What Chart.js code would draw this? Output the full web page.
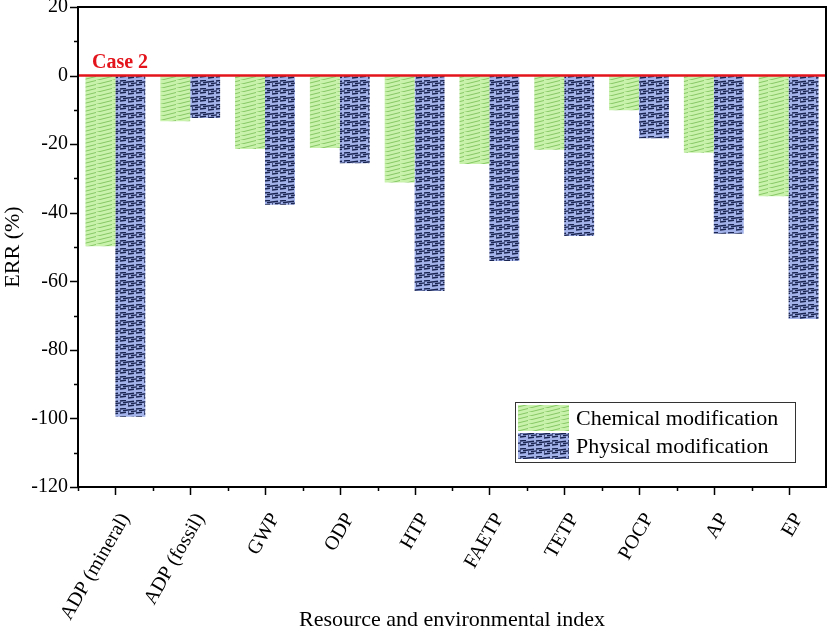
<!DOCTYPE html>
<html>
<head>
<meta charset="utf-8">
<script src="https://cdn.jsdelivr.net/npm/chart.js@4.4.1/dist/chart.umd.min.js"></script>
<style>
  html, body { margin: 0; background: #fff; }
  #wrap { width: 827px; height: 633px; }
</style>
</head>
<body>
<div id="wrap"><canvas id="err-chart"></canvas></div>
<script>
  const categories = ["ADP (mineral)", "ADP (fossil)", "GWP", "ODP", "HTP", "FAETP", "TETP", "POCP", "AP", "EP"];
  const chemical = [-49.8, -13.3, -21.4, -21.1, -31.2, -25.8, -21.6, -10.1, -22.5, -35.2];
  const physical = [-99.5, -12.4, -37.7, -25.6, -62.8, -54.1, -46.8, -18.3, -46.1, -71.0];
  const seriesNames = ["Chemical modification", "Physical modification"];
  const yRange = { min: -120, max: 20, major: 20, minor: 10 };
  const refValue = 0;
  const refLabel = "Case 2";

  const serif = "'Liberation Serif', 'Times New Roman', serif";

  function greenPattern() {
    const c = document.createElement("canvas");
    c.width = 16; c.height = 4;
    const g = c.getContext("2d");
    g.fillStyle = "#c9f2ac";
    g.fillRect(0, 0, 16, 4);
    g.strokeStyle = "#86c765";
    g.lineWidth = 1;
    g.beginPath();
    g.moveTo(0, 4.5); g.lineTo(16, 0.5);
    g.moveTo(-16, 4.5); g.lineTo(0, 0.5);
    g.stroke();
    return g.createPattern(c, "repeat");
  }

  function bluePattern() {
    const c = document.createElement("canvas");
    c.width = 16; c.height = 8;
    const g = c.getContext("2d");
    g.fillStyle = "#a3b3ea";
    g.fillRect(0, 0, 16, 8);
    g.strokeStyle = "#1a2450";
    g.lineWidth = 1.3;
    g.beginPath();
    for (let row = 0; row < 3; row++) {
      const y0 = 2 + row * 2;
      const shift = row % 2 ? 3 : 0;
      for (let x = -8; x < 16; x += 8) {
        const sx = x + shift;
        g.moveTo(sx, y0 - sx / 8);
        g.lineTo(sx + 6, y0 - (sx + 6) / 8);
      }
    }
    g.stroke();
    return g.createPattern(c, "repeat");
  }

  const fills = [greenPattern(), bluePattern()];

  const frame = {
    id: "frame",
    afterDatasetsDraw(chart) {
      const { ctx, chartArea: a, scales } = chart;
      const y0 = scales.y.getPixelForValue(refValue);
      ctx.save();
      ctx.strokeStyle = "#e3141b";
      ctx.lineWidth = 2.5;
      ctx.beginPath();
      ctx.moveTo(a.left, y0);
      ctx.lineTo(a.right, y0);
      ctx.stroke();
      ctx.fillStyle = "#e3141b";
      ctx.font = "bold 20px " + serif;
      ctx.textBaseline = "alphabetic";
      ctx.fillText(refLabel, a.left + 14, y0 - 8);
      ctx.restore();
    },
    afterDraw(chart) {
      const { ctx, chartArea: a, scales } = chart;
      ctx.save();
      ctx.strokeStyle = "#000";
      ctx.lineWidth = 2;
      ctx.strokeRect(a.left, a.top, a.right - a.left, a.bottom - a.top);

      ctx.lineWidth = 1.5;
      ctx.beginPath();
      for (let v = yRange.min; v <= yRange.max; v += yRange.minor) {
        const py = Math.round(scales.y.getPixelForValue(v)) + 0.5;
        const len = v % yRange.major === 0 ? 8 : 4;
        ctx.moveTo(a.left - len, py);
        ctx.lineTo(a.left, py);
      }
      const step = (a.right - a.left) / categories.length;
      categories.forEach((_, i) => {
        const px = Math.round(scales.x.getPixelForValue(i)) + 0.5;
        ctx.moveTo(px, a.bottom);
        ctx.lineTo(px, a.bottom + 8);
        const bx = Math.round(px - step / 2) + 0.5;
        ctx.moveTo(bx, a.bottom);
        ctx.lineTo(bx, a.bottom + 4);
      });
      ctx.stroke();

      // legend
      const bw = 280, bh = 60;
      const bx = a.right - 31 - bw, by = a.bottom - 25 - bh;
      ctx.fillStyle = "#fff";
      ctx.fillRect(bx, by, bw, bh);
      ctx.strokeStyle = "#333";
      ctx.lineWidth = 1;
      ctx.strokeRect(bx + 0.5, by + 0.5, bw, bh);
      ctx.font = "22px " + serif;
      ctx.textBaseline = "middle";
      chart.data.datasets.forEach((ds, i) => {
        const ry = by + 3 + i * 28;
        ctx.fillStyle = ds.backgroundColor;
        ctx.fillRect(bx + 3, ry, 51, 26);
        ctx.fillStyle = "#000";
        ctx.fillText(ds.label, bx + 61, ry + 14);
      });
      ctx.restore();
    },
  };

  new Chart(document.getElementById("err-chart"), {
    type: "bar",
    data: {
      labels: categories,
      datasets: [
        { label: seriesNames[0], data: chemical, backgroundColor: fills[0], borderWidth: 0 },
        { label: seriesNames[1], data: physical, backgroundColor: fills[1], borderWidth: 0 },
      ],
    },
    options: {
      responsive: true,
      maintainAspectRatio: false,
      animation: false,
      events: [],
      barPercentage: 1,
      categoryPercentage: 0.8,
      layout: { padding: { top: 7, right: 1, left: 0, bottom: 0 } },
      plugins: {
        legend: { display: false },
        tooltip: { enabled: false },
      },
      scales: {
        x: {
          afterFit: (scale) => {
            scale.height = 146;
            scale.paddingRight = 0;
          },
          grid: { display: false },
          border: { display: false },
          ticks: {
            color: "#000",
            font: { family: serif, size: 20 },
            minRotation: 60,
            maxRotation: 60,
            autoSkip: false,
            padding: 14,
            labelOffset: 10,
          },
          title: {
            display: true,
            text: "Resource and environmental index",
            color: "#000",
            font: { family: serif, size: 22 },
            padding: { top: 0, bottom: 0 },
          },
        },
        y: {
          min: yRange.min,
          max: yRange.max,
          afterFit: (scale) => {
            scale.width = 78;
            scale.paddingTop = 0;
            scale.paddingBottom = 0;
          },
          grid: { display: false },
          border: { display: false },
          ticks: {
            stepSize: yRange.minor,
            color: "#000",
            font: { family: serif, size: 20 },
            padding: 2,
            callback: (v) => (v % yRange.major === 0 ? v : ""),
          },
          title: {
            display: true,
            text: "ERR (%)",
            color: "#000",
            font: { family: serif, size: 22 },
            padding: { top: 0, bottom: 2 },
          },
        },
      },
    },
    plugins: [frame],
  });
</script>
</body>
</html>
